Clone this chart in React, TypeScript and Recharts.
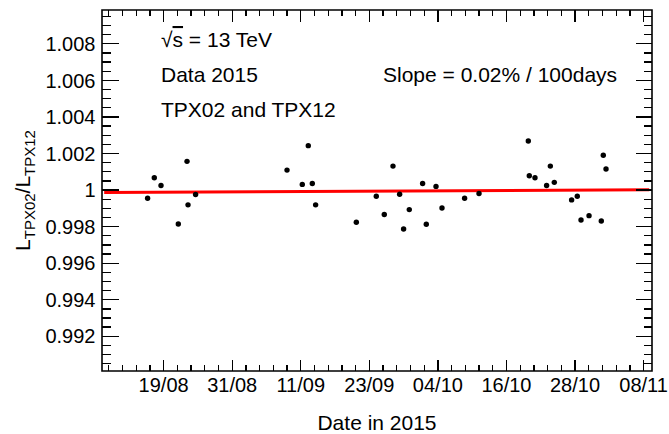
import { ComposedChart, Scatter, Line, XAxis, YAxis, ReferenceArea } from "recharts"

// x values are days counted from 1 Aug 2015 00:00
const pointDays = [
  15.93, 17.06, 18.19, 21.11, 22.58, 22.75, 24.03,
  39.46, 42.04, 43.05, 43.73, 44.29,
  51.16, 54.53, 55.88, 57.35, 58.47, 59.14, 60.1, 62.35, 62.97, 64.61, 65.62, 69.44, 71.87,
  80.19, 80.36, 81.32, 83.28, 83.91, 84.58, 87.5, 88.46, 89.09, 90.44, 92.51, 92.85, 93.31,
]
const pointRatios = [
  0.99955, 1.00067, 1.00025, 0.99814, 1.00157, 0.99919, 0.99976,
  1.00109, 1.00031, 1.00243, 1.00036, 0.99919,
  0.99824, 0.99966, 0.99866, 1.00131, 0.99977, 0.99787, 0.99893, 1.00036, 0.99813, 1.0002, 0.99902, 0.99955, 0.99981,
  1.00268, 1.00078, 1.00067, 1.00025, 1.00131, 1.00042, 0.99946, 0.99966, 0.99836, 0.9986, 0.99831, 1.0019, 1.00115,
]

const fitDays = [8.6, 100.6]
const fitRatios = [0.99986, 1.000015]

const xTickDays = [18.63, 30.2, 41.78, 53.35, 64.93, 76.5, 88.07, 99.65]
const xTickLabels = ["19/08", "31/08", "11/09", "23/09", "04/10", "16/10", "28/10", "08/11"]
const yTickValues = [0.992, 0.994, 0.996, 0.998, 1.0, 1.002, 1.004, 1.006, 1.008]

const xDomain: [number, number] = [8.23, 101.07]
const yDomain: [number, number] = [0.9901, 1.00985]

const points = pointDays.map((d, i) => ({ day: d, ratio: pointRatios[i] }))
const fitLine = fitDays.map((d, i) => ({ day: d, ratio: fitRatios[i] }))

// minor ticks: 5 divisions per major interval
const xStep = (xTickDays[xTickDays.length - 1] - xTickDays[0]) / ((xTickDays.length - 1) * 5)
const xAllTicks: number[] = []
for (let j = -10; j < 60; j++) {
  const t = xTickDays[0] + j * xStep
  if (t >= xDomain[0] && t <= xDomain[1]) xAllTicks.push(+t.toFixed(4))
}
const yAllTicks: number[] = []
for (let j = 0; j <= 40; j++) {
  const v = +(0.99 + j * 0.0005).toFixed(4)
  if (v >= yDomain[0] && v <= yDomain[1]) yAllTicks.push(v)
}

const W = 669
const H = 434
const margin = { top: 10, right: 17, bottom: 0, left: 0 }
const xAxisHeight = 63
const yAxisWidth = 102
const plotW = W - margin.left - margin.right - yAxisWidth
const plotH = H - margin.top - margin.bottom - xAxisHeight

const font = "'Liberation Sans', Arial, Helvetica, sans-serif"

// ROOT style: ticks inside the frame, mirrored on the opposite side
const XTick = (props: any) => {
  const { x, y, payload } = props
  const idx = xTickDays.findIndex((d) => Math.abs(d - payload.value) < 0.3)
  const len = idx >= 0 ? 11.5 : 5.7
  return (
    <g>
      <line x1={x} x2={x} y1={y} y2={y - len} stroke="#000" strokeWidth={1.3} shapeRendering="crispEdges" />
      <line x1={x} x2={x} y1={y - plotH} y2={y - plotH + len} stroke="#000" strokeWidth={1.3} shapeRendering="crispEdges" />
      {idx >= 0 && (
        <text x={x} y={y + 21} textAnchor="middle" fontSize={20} fontFamily={font} fill="#000">
          {xTickLabels[idx]}
        </text>
      )}
    </g>
  )
}

const YTick = (props: any) => {
  const { x, y, payload } = props
  const major = yTickValues.some((v) => Math.abs(v - payload.value) < 1e-6)
  const len = major ? 16.5 : 8.5
  return (
    <g>
      <line x1={x} x2={x + len} y1={y} y2={y} stroke="#000" strokeWidth={1.3} shapeRendering="crispEdges" />
      <line x1={x + plotW} x2={x + plotW - len} y1={y} y2={y} stroke="#000" strokeWidth={1.3} shapeRendering="crispEdges" />
      {major && (
        <text x={x - 6.5} y={y} dy="0.36em" textAnchor="end" fontSize={20} fontFamily={font} fill="#000">
          {String(+payload.value.toFixed(3))}
        </text>
      )}
    </g>
  )
}

const YTitle = (props: any) => {
  const vb = props.viewBox || { y: margin.top, height: plotH }
  const cx = 30
  const cy = vb.y + vb.height / 2
  return (
    <text
      x={cx}
      y={cy}
      textAnchor="middle"
      transform={`rotate(-90, ${cx}, ${cy})`}
      fontFamily={font}
      fontSize={21}
      fill="#000"
    >
      <tspan>L</tspan>
      <tspan fontSize={15} dy={5}>TPX02</tspan>
      <tspan dy={-5}>/L</tspan>
      <tspan fontSize={15} dy={5}>TPX12</tspan>
    </text>
  )
}

// x title plus the in-frame annotations
const XTitle = (props: any) => {
  const vb = props.viewBox || { x: yAxisWidth, width: plotW }
  return (
    <g fontFamily={font} fontSize={21} fill="#000">
      <text x={vb.x + vb.width / 2} y={430} textAnchor="middle">Date in 2015</text>
      <text x={161} y={47}>
        <tspan>√</tspan>
        <tspan style={{ textDecoration: "overline" }}>s</tspan>
        <tspan> = 13 TeV</tspan>
      </text>
      <text x={161} y={82}>Data 2015</text>
      <text x={161} y={116.5}>TPX02 and TPX12</text>
      <text x={383} y={82}>Slope = 0.02% / 100days</text>
    </g>
  )
}

const Dot = (props: any) => <circle cx={props.cx} cy={props.cy} r={2.7} fill="#000" />

export default function App() {
  return (
    <div style={{ width: W, height: H, background: "#fff" }}>
      <style>{"body{margin:0}"}</style>
      <ComposedChart width={W} height={H} margin={margin}>
        <XAxis
          dataKey="day"
          type="number"
          domain={xDomain}
          allowDataOverflow
          ticks={xAllTicks}
          interval={0}
          height={xAxisHeight}
          tickSize={0}
          tickMargin={0}
          tickLine={false}
          axisLine={false}
          tick={(p: any) => <XTick {...p} />}
          label={{ content: (p: any) => <XTitle {...p} /> }}
        />
        <YAxis
          dataKey="ratio"
          type="number"
          domain={yDomain}
          allowDataOverflow
          ticks={yAllTicks}
          interval={0}
          width={yAxisWidth}
          tickSize={0}
          tickMargin={0}
          tickLine={false}
          axisLine={false}
          tick={(p: any) => <YTick {...p} />}
          label={{ content: (p: any) => <YTitle {...p} /> }}
        />
        <ReferenceArea
          x1={xDomain[0]}
          x2={xDomain[1]}
          y1={yDomain[0]}
          y2={yDomain[1]}
          fill="none"
          stroke="#000"
          strokeWidth={1.6}
          ifOverflow="visible"
        />
        <Scatter
          data={points}
          dataKey="ratio"
          fill="#000"
          shape={(p: any) => <Dot {...p} />}
          isAnimationActive={false}
        />
        <Line
          data={fitLine}
          dataKey="ratio"
          type="linear"
          stroke="#ff0000"
          strokeWidth={3}
          dot={false}
          activeDot={false}
          isAnimationActive={false}
        />
      </ComposedChart>
    </div>
  )
}
